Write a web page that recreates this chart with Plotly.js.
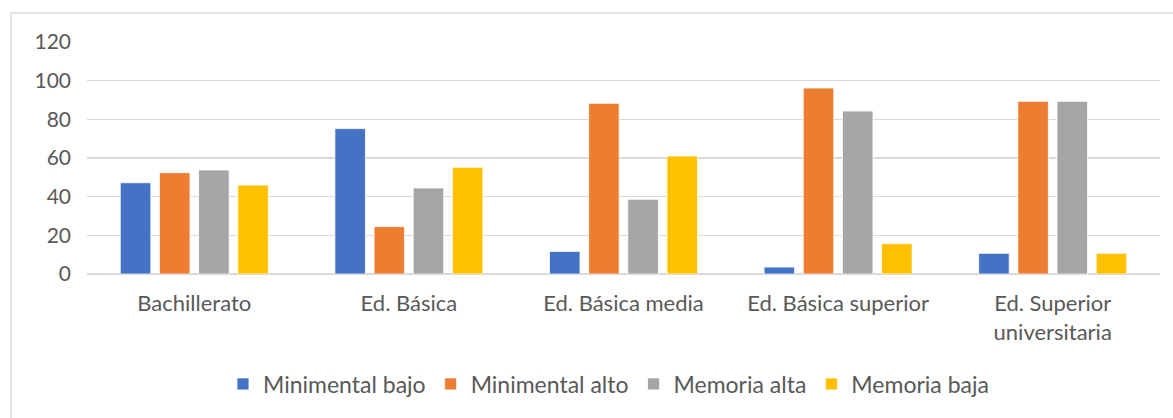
<!DOCTYPE html>
<html>
<head>
<meta charset="utf-8">
<script src="https://cdn.plot.ly/plotly-3.0.1.min.js"></script>
<style>
  html, body { margin: 0; padding: 0; background: #ffffff; }
  #chart { width: 1173px; height: 418px; }
</style>
</head>
<body>
<div id="chart"></div>
<script>
// Education levels on the category axis
const categories = [
  'Bachillerato',
  'Ed. Básica',
  'Ed. Básica media',
  'Ed. Básica superior',
  'Ed. Superior<br>universitaria'
];

// One series per test result
const minimentalBajo = [47.2, 75.2, 11.7, 3.6, 10.7];
const minimentalAlto = [52.4, 24.5, 88.3, 96.2, 89.3];
const memoriaAlta    = [53.8, 44.5, 38.6, 84.3, 89.3];
const memoriaBaja    = [46.0, 55.2, 61.0, 15.7, 10.7];

const seriesNames  = ['Minimental bajo', 'Minimental alto', 'Memoria alta', 'Memoria baja'];
const seriesValues = [minimentalBajo, minimentalAlto, memoriaAlta, memoriaBaja];
const seriesColors = ['#4472C4', '#ED7D31', '#A5A5A5', '#FFC000'];

const yTicks = [0, 20, 40, 60, 80, 100, 120];

const FONT = 'Lato, "Liberation Sans", sans-serif';
const TEXT = '#595959';
const GRID = '#d9d9d9';

const traces = seriesNames.map((name, i) => ({
  type: 'bar',
  name: name,
  x: categories,
  y: seriesValues[i],
  marker: { color: seriesColors[i], line: { color: '#ffffff', width: 0.8 } },
  hoverinfo: 'x+y+name'
}));

const layout = {
  width: 1173,
  height: 418,
  margin: { l: 87, r: 13, t: 42, b: 144 },
  paper_bgcolor: '#ffffff',
  plot_bgcolor: '#ffffff',
  font: { family: FONT, color: TEXT, size: 21 },
  barmode: 'group',
  bargap: 0.27,
  bargroupgap: 0.22,
  showlegend: true,
  legend: {
    orientation: 'h',
    x: 0.486,
    xanchor: 'center',
    y: -0.474,
    yanchor: 'middle',
    font: { family: FONT, color: TEXT, size: 23 },
    bgcolor: 'rgba(0,0,0,0)'
  },
  xaxis: {
    type: 'category',
    showgrid: false,
    showline: false,
    zeroline: false,
    ticks: '',
    ticklabelstandoff: 14,
    tickfont: { family: FONT, color: TEXT, size: 22 }
  },
  yaxis: {
    range: [0, 120],
    tickvals: yTicks,
    ticktext: yTicks.map(String),
    showgrid: true,
    gridcolor: GRID,
    gridwidth: 1.4,
    zeroline: true,
    zerolinecolor: GRID,
    zerolinewidth: 1.4,
    showline: false,
    ticks: '',
    ticklabelstandoff: 15,
    tickfont: { family: FONT, color: TEXT, size: 21 }
  },
  shapes: [{
    type: 'rect',
    xref: 'paper', yref: 'paper',
    x0: -0.0708, x1: 1.03,
    y0: -0.7, y1: 1.125,
    line: { color: GRID, width: 1.5 },
    fillcolor: 'rgba(0,0,0,0)',
    layer: 'below'
  }]
};

Plotly.newPlot('chart', traces, layout, { displayModeBar: false, staticPlot: true });
</script>
</body>
</html>
